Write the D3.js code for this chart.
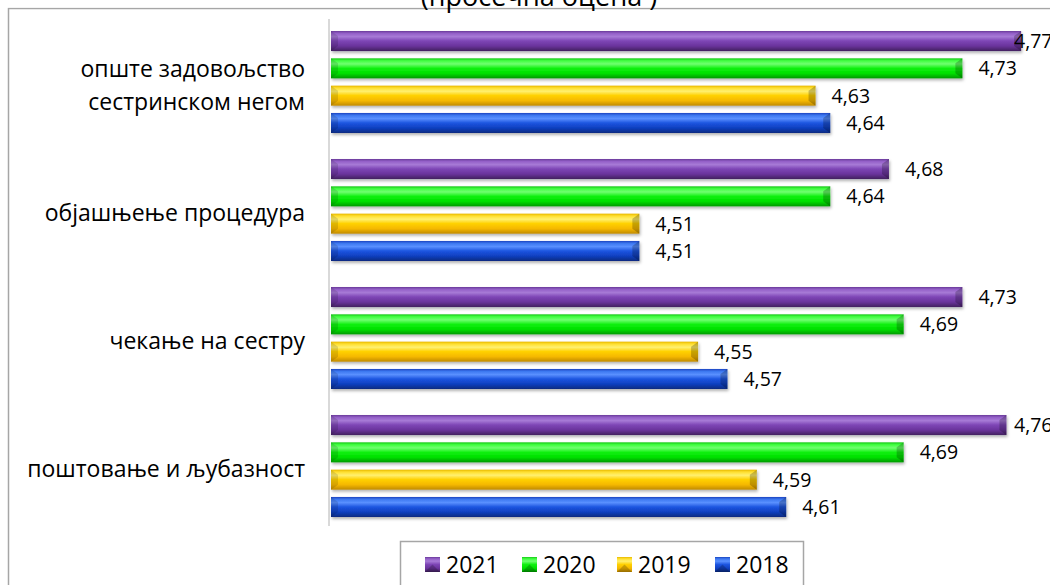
<!DOCTYPE html>
<html>
<head>
<meta charset="utf-8">
<script src="https://cdn.jsdelivr.net/npm/d3@7"></script>
<style>
  body { margin: 0; background: #fff; }
  svg { display: block; font-family: "Open Sans", "Noto Sans", sans-serif; }
</style>
</head>
<body>
<div id="chart"></div>
<script>
(function(d3) {

var categories = [
  ['опште задовољство', 'сестринском негом'],
  ['објашњење процедура'],
  ['чекање на сестру'],
  ['поштовање и љубазност']
];
var series = ['2021', '2020', '2019', '2018'];
var values2021 = [4.77, 4.68, 4.73, 4.76];
var values2020 = [4.73, 4.64, 4.69, 4.69];
var values2019 = [4.63, 4.51, 4.55, 4.59];
var values2018 = [4.64, 4.51, 4.57, 4.61];
var title = '(просечна оцена )';

var seriesValues = [values2021, values2020, values2019, values2018];

var width = 1050;
var height = 585;

// gradient stops per series (dark edge, highlight, body, dark bottom)
var colors = {
  '2021': ['#6a3a9a', '#9460c8', '#a77ad6', '#7d45b5', '#6a349c', '#42205f'],
  '2020': ['#18c818', '#40ff40', '#70ff70', '#10f010', '#00e000', '#009900'],
  '2019': ['#e8b800', '#ffe030', '#fff070', '#ffd000', '#f5b800', '#c08a00'],
  '2018': ['#1a45c0', '#3d78f0', '#5a90ff', '#1d55e0', '#1040c0', '#0a2a80']
};
var stopOffsets = [0, 0.12, 0.28, 0.5, 0.75, 1];

var svg = d3.select('#chart')
  .append('svg')
  .attr('width', width)
  .attr('height', height);

var defs = svg.append('defs');
series.forEach(function(s) {
  var g = defs.append('linearGradient')
    .attr('id', 'grad' + s)
    .attr('x1', 0).attr('y1', 0).attr('x2', 0).attr('y2', 1);
  colors[s].forEach(function(c, i) {
    g.append('stop').attr('offset', stopOffsets[i]).attr('stop-color', c);
  });
});
var shadow = defs.append('filter').attr('id', 'shadow')
  .attr('x', '-5%').attr('y', '-30%').attr('width', '110%').attr('height', '170%');
shadow.append('feDropShadow')
  .attr('dx', 1).attr('dy', 2).attr('stdDeviation', 1.5)
  .attr('flood-color', '#000').attr('flood-opacity', 0.3);

// outer chart border (cropped at right and bottom)
svg.append('rect')
  .attr('x', 8.5).attr('y', 8.5)
  .attr('width', 1100).attr('height', 700)
  .attr('fill', 'none')
  .attr('stroke', '#a6a6a6')
  .attr('stroke-width', 1.5);

svg.append('rect')
  .attr('x', 0).attr('y', 0).attr('width', width).attr('height', 7.5)
  .attr('fill', '#fff');

svg.append('text')
  .attr('x', 539)
  .attr('y', 6)
  .attr('text-anchor', 'middle')
  .style('font-size', '27px')
  .attr('fill', '#000')
  .text(title);

var x = d3.scaleLinear()
  .domain([4.3, 4.9])
  .range([331, 1212]);

var y0 = d3.scaleBand()
  .domain(d3.range(categories.length))
  .range([10, 522]);

var y1 = d3.scaleBand()
  .domain(series)
  .range([21, 123])
  .paddingInner(0.267);

// vertical category axis line
svg.append('line')
  .attr('x1', 329).attr('x2', 329)
  .attr('y1', 19).attr('y2', 526)
  .attr('stroke', '#d9d9d9')
  .attr('stroke-width', 2);

var groups = svg.selectAll('.group')
  .data(categories)
  .enter()
  .append('g')
  .attr('class', 'group')
  .attr('transform', function(d, i) { return 'translate(0,' + y0(i) + ')'; });

groups.each(function(cat, ci) {
  var g = d3.select(this);
  var rows = series.map(function(s, si) { return { s: s, v: seriesValues[si][ci] }; });

  var bar = g.selectAll('.bar')
    .data(rows)
    .enter()
    .append('g')
    .attr('class', 'bar');

  bar.append('rect')
    .attr('x', x(4.3))
    .attr('y', function(d) { return y1(d.s); })
    .attr('width', function(d) { return x(d.v) - x(4.3); })
    .attr('height', y1.bandwidth())
    .attr('fill', function(d) { return 'url(#grad' + d.s + ')'; })
    .attr('filter', 'url(#shadow)');

  // bevel at right end
  bar.append('path')
    .attr('d', function(d) {
      var x1 = x(d.v), yt = y1(d.s), h = y1.bandwidth();
      return 'M' + x1 + ',' + yt + 'L' + x1 + ',' + (yt + h) +
        'L' + (x1 - 7) + ',' + (yt + h - 5) + 'L' + (x1 - 7) + ',' + (yt + 5) + 'Z';
    })
    .attr('fill', '#000')
    .attr('fill-opacity', 0.22);

  // bevel at left end
  bar.append('path')
    .attr('d', function(d) {
      var xs = x(4.3), yt = y1(d.s), h = y1.bandwidth();
      return 'M' + xs + ',' + yt + 'L' + (xs + 7) + ',' + (yt + 5) +
        'L' + (xs + 7) + ',' + (yt + h - 5) + 'L' + xs + ',' + (yt + h) + 'Z';
    })
    .attr('fill', '#000')
    .attr('fill-opacity', 0.12);

  bar.append('text')
    .attr('x', function(d) { return Math.min(x(d.v) + 16, 1014); })
    .attr('y', function(d) { return y1(d.s) + y1.bandwidth() / 2; })
    .attr('dy', '0.36em')
    .style('font-size', '19.5px')
    .attr('fill', '#000')
    .text(function(d) { return d3.format('.2f')(d.v).replace('.', ','); });

  var cy = (y1.range()[0] + y1.range()[1]) / 2 + 3;
  var lineH = 33;
  g.append('text')
    .attr('text-anchor', 'end')
    .style('font-size', '23px')
    .attr('fill', '#000')
    .selectAll('tspan')
    .data(cat)
    .enter()
    .append('tspan')
    .attr('x', 305)
    .attr('y', function(d, i) { return cy + (i - (cat.length - 1) / 2) * lineH; })
    .attr('dy', '0.36em')
    .text(function(d) { return d; });
});

// legend
var legendX = [425, 522, 617, 715];
var legend = svg.append('g');
legend.append('rect')
  .attr('x', 400.5).attr('y', 541.5)
  .attr('width', 403).attr('height', 80)
  .attr('fill', '#fff')
  .attr('stroke', '#a6a6a6')
  .attr('stroke-width', 1.5);

var items = legend.selectAll('.legend')
  .data(series)
  .enter()
  .append('g')
  .attr('class', 'legend')
  .attr('transform', function(d, i) { return 'translate(' + legendX[i] + ',557)'; });

items.append('rect')
  .attr('width', 15)
  .attr('height', 15)
  .attr('fill', function(d) { return 'url(#grad' + d + ')'; });

items.append('path')
  .attr('d', 'M0,15L7.5,7.5L15,15Z')
  .attr('fill', '#000')
  .attr('fill-opacity', 0.2);

items.append('text')
  .attr('x', 21)
  .attr('y', 7.5)
  .attr('dy', '0.36em')
  .style('font-size', '23px')
  .attr('fill', '#000')
  .text(function(d) { return d; });

})(window.d3);
</script>
</body>
</html>
